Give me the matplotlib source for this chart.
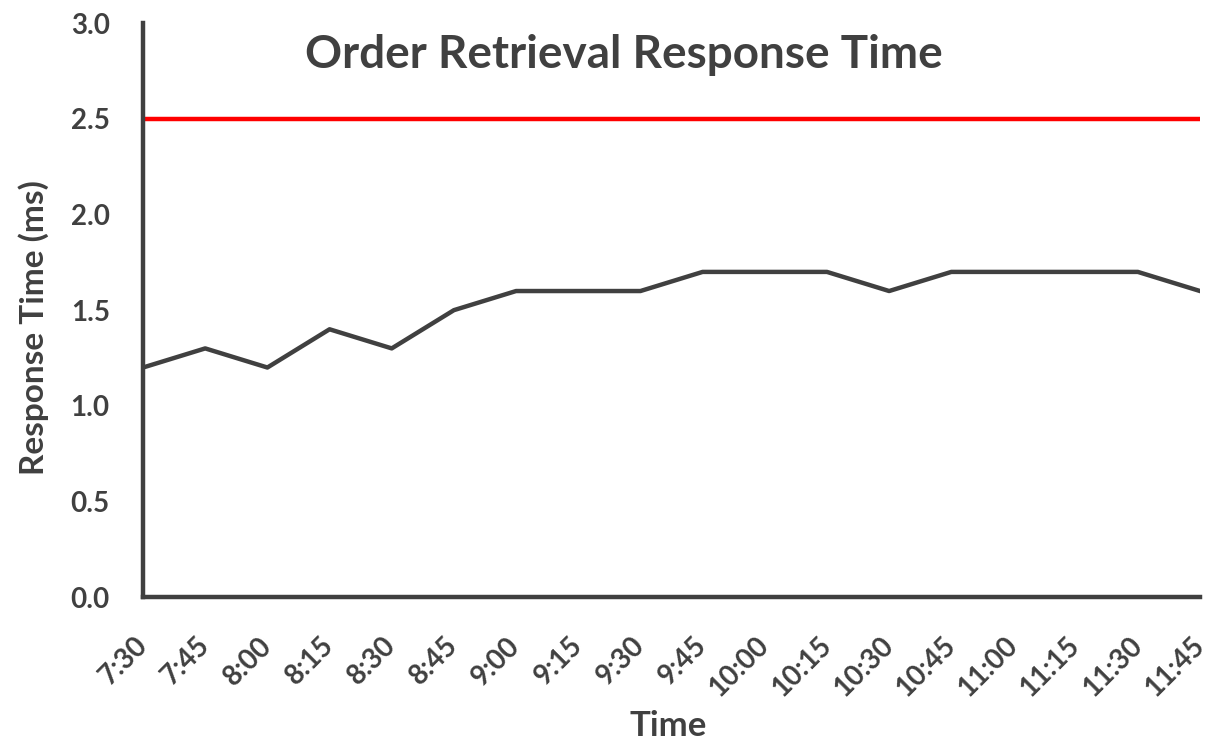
import numpy as np
import matplotlib
matplotlib.use("Agg")
import matplotlib.pyplot as plt

times = ["7:30", "7:45", "8:00", "8:15", "8:30", "8:45", "9:00", "9:15", "9:30",
         "9:45", "10:00", "10:15", "10:30", "10:45", "11:00", "11:15", "11:30", "11:45"]
response_ms = [1.2, 1.3, 1.2, 1.4, 1.3, 1.5, 1.6, 1.6, 1.6,
               1.7, 1.7, 1.7, 1.6, 1.7, 1.7, 1.7, 1.7, 1.6]
threshold_ms = 2.5
yticks = [0.0, 0.5, 1.0, 1.5, 2.0, 2.5, 3.0]

dark = "#404040"
plt.rcParams["font.family"] = ["Lato", "DejaVu Sans"]
plt.rcParams["font.weight"] = "bold"

fig = plt.figure(figsize=(12.08, 7.47), dpi=100)
ax = fig.add_axes([0.1184, 0.2008, 0.875, 0.768])

x = np.arange(len(times))
ax.plot(x, response_ms, color=dark, lw=3.2, zorder=3)
ax.axhline(threshold_ms, color="#ff0000", lw=3.2, zorder=2)

ax.set_xlim(0, len(times) - 1)
ax.set_ylim(0, 3.0)
ax.set_yticks(yticks)
ax.set_yticklabels([f"{v:.1f}" for v in yticks])
ax.set_xticks(x)
ax.set_xticklabels(times, rotation=45, ha="right", va="center", rotation_mode="anchor")

for side in ["top", "right"]:
    ax.spines[side].set_visible(False)
for side in ["left", "bottom"]:
    ax.spines[side].set_color(dark)
    ax.spines[side].set_linewidth(3.2)
ax.tick_params(axis="both", length=0, colors=dark, labelsize=20)
ax.tick_params(axis="y", pad=24)
ax.tick_params(axis="x", pad=32)

ax.set_ylabel("Response Time (ms)", fontsize=24, color=dark, fontweight="bold")
ax.yaxis.set_label_coords(-0.089, 0.47)
ax.set_xlabel("Time", fontsize=25, color=dark, fontweight="bold")
ax.xaxis.set_label_coords(0.497, -0.197)
ax.text(0.455, 0.945, "Order Retrieval Response Time", transform=ax.transAxes,
        ha="center", va="center", fontsize=33, color=dark, fontweight="bold")

fig.savefig("out.png", dpi=100)
